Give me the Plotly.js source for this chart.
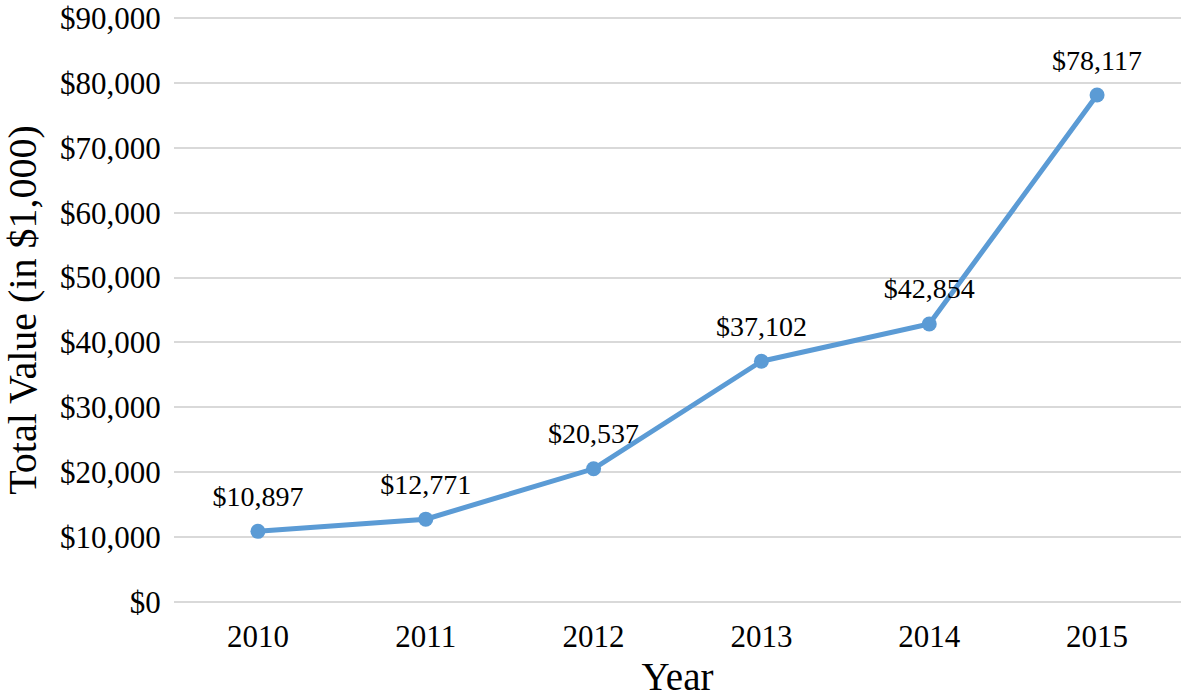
<!DOCTYPE html>
<html>
<head>
<meta charset="utf-8">
<script src="https://cdn.plot.ly/plotly-3.0.1.min.js"></script>
<style>html,body{margin:0;padding:0;background:#fff;}#chart{width:1181px;height:700px;}</style>
</head>
<body>
<div id="chart"></div>
<script>
const years = ['2010', '2011', '2012', '2013', '2014', '2015'];
const totalValues = [10897, 12771, 20537, 37102, 42854, 78117];
const yTickVals = [0, 10000, 20000, 30000, 40000, 50000, 60000, 70000, 80000, 90000];
const yTickText = ['$0', '$10,000', '$20,000', '$30,000', '$40,000', '$50,000', '$60,000', '$70,000', '$80,000', '$90,000'];
const xTitle = 'Year';
const yTitle = 'Total Value (in $1,000)';

const font = 'Liberation Serif, Times New Roman, serif';
const labels = totalValues.map(v => '$' + v.toLocaleString('en-US'));

const lineTrace = {
  x: years,
  y: totalValues,
  type: 'scatter',
  mode: 'lines+markers',
  line: {color: '#5b9bd5', width: 5},
  marker: {color: '#5b9bd5', size: 15},
  cliponaxis: false,
  hoverinfo: 'skip'
};

const labelTrace = {
  x: years,
  y: totalValues,
  type: 'scatter',
  mode: 'markers+text',
  marker: {color: 'rgba(0,0,0,0)', size: 28},
  text: labels,
  textposition: 'top center',
  textfont: {family: font, size: 28, color: '#000'},
  cliponaxis: false,
  hoverinfo: 'skip'
};

const layout = {
  width: 1181,
  height: 700,
  margin: {l: 174, r: 0, t: 16, b: 96},
  paper_bgcolor: '#fff',
  plot_bgcolor: '#fff',
  showlegend: false,
  font: {family: font, color: '#000'},
  xaxis: {
    type: 'category',
    range: [-0.5, 5.5],
    showgrid: false,
    zeroline: false,
    showline: false,
    ticks: 'outside',
    ticklen: 5,
    tickcolor: 'rgba(0,0,0,0)',
    tickfont: {family: font, size: 31, color: '#000'},
    title: {text: xTitle, font: {family: font, size: 39, color: '#000'}, standoff: 9}
  },
  yaxis: {
    range: [-300, 90300],
    tickvals: yTickVals,
    ticktext: yTickText,
    showgrid: true,
    gridcolor: '#d9d9d9',
    gridwidth: 2,
    zeroline: false,
    showline: false,
    ticks: 'outside',
    ticklen: 6,
    tickcolor: 'rgba(0,0,0,0)',
    tickfont: {family: font, size: 31, color: '#000'},
    title: {text: yTitle, font: {family: font, size: 40, color: '#000'}, standoff: 16}
  }
};

Plotly.newPlot('chart', [lineTrace, labelTrace], layout, {displayModeBar: false, staticPlot: true});
</script>
</body>
</html>
